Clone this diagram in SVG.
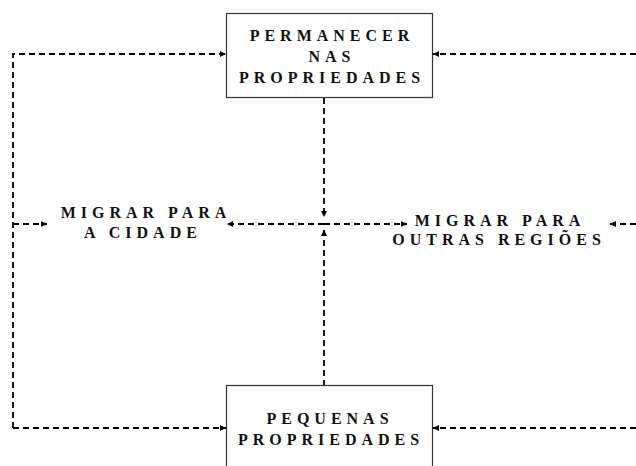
<svg xmlns="http://www.w3.org/2000/svg" width="636" height="466" viewBox="0 0 636 466">
<style>
.box{fill:#fff;stroke:#333;stroke-width:1.2}
.t{font-family:"Liberation Serif","Times New Roman",serif;font-weight:bold;font-size:16px;letter-spacing:5px;fill:#111;text-anchor:middle}
.c{fill:none;stroke:#000;stroke-width:1.8;stroke-dasharray:6,4}
</style>
<defs>
<marker id="ah" viewBox="0 0 10 10" refX="10" refY="5" markerWidth="7" markerHeight="6" markerUnits="userSpaceOnUse" orient="auto">
<path d="M0,0L10,5L0,10z" fill="#000"/>
</marker>
</defs>
<rect width="636" height="466" fill="#fff"/>
<g id="connectors">
<path class="c" d="M13,428V54H226" marker-end="url(#ah)"/>
<path class="c" d="M13,428H226" marker-end="url(#ah)"/>
<path class="c" d="M13,224H47" marker-end="url(#ah)"/>
<path class="c" d="M636,54H433" marker-end="url(#ah)"/>
<path class="c" d="M636,224H610" marker-end="url(#ah)"/>
<path class="c" d="M636,428H433" marker-end="url(#ah)"/>
<path class="c" d="M324,98V217" marker-end="url(#ah)"/>
<path class="c" d="M324,386V230" marker-end="url(#ah)"/>
<path class="c" d="M324,224H227" marker-end="url(#ah)"/>
<path class="c" d="M324,224H407" marker-end="url(#ah)"/>
</g>
<g id="permanecer">
<rect class="box" x="226.5" y="13.5" width="206" height="84"/>
<text class="t" x="332" y="41">PERMANECER</text>
<text class="t" x="332" y="62">NAS</text>
<text class="t" x="332" y="83">PROPRIEDADES</text>
</g>
<g id="pequenas">
<rect class="box" x="226.5" y="385.5" width="206" height="100"/>
<text class="t" x="330" y="424">PEQUENAS</text>
<text class="t" x="331" y="445">PROPRIEDADES</text>
</g>
<g id="cidade">
<text class="t" x="146" y="218">MIGRAR PARA</text>
<text class="t" x="143" y="238">A CIDADE</text>
</g>
<g id="outras">
<text class="t" x="500" y="226">MIGRAR PARA</text>
<text class="t" x="499" y="245">OUTRAS REGIÕES</text>
</g>
</svg>
